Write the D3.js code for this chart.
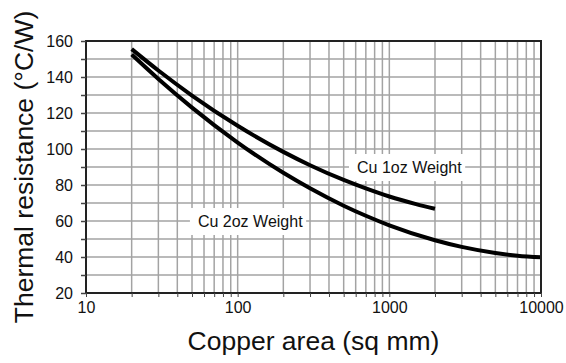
<!DOCTYPE html>
<html>
<head>
<meta charset="utf-8">
<script src="https://cdn.jsdelivr.net/npm/d3@7"></script>
<style>
  html, body { margin: 0; padding: 0; background: #fff; }
  svg { display: block; font-family: "Liberation Sans", Arial, Helvetica, sans-serif; }
</style>
</head>
<body>
<svg id="chart" width="566" height="363"></svg>
<script>
// ---- data ----
const xTickValues = [10, 100, 1000, 10000];
const yTickValues = [20, 40, 60, 80, 100, 120, 140, 160];
const areaOz1 = [20, 30, 50, 100, 200, 300, 500, 700, 1000, 1500, 2000];
const resOz1  = [155.5, 143.6, 129.7, 112.9, 98.4, 91.0, 82.8, 78.1, 73.6, 69.4, 66.8];
const areaOz2 = [20, 30, 50, 100, 200, 300, 500, 700, 1000, 2000, 3000, 5000, 7000, 10000];
const resOz2  = [152.5, 138.9, 123.0, 103.6, 86.8, 78.2, 68.5, 62.9, 57.6, 49.3, 45.6, 42.2, 40.7, 39.8];
const seriesNames = ["Cu 1oz Weight", "Cu 2oz Weight"];
const labelArea = [612, 54.7];
const labelRes = [90, 60];
const xTitle = "Copper area (sq mm)";
const yTitle = "Thermal resistance (°C/W)";

// ---- layout ----
const W = 566, H = 363;
const m = { left: 86, right: 25, top: 41, bottom: 70 };
const svg = d3.select("#chart");
const x = d3.scaleLog().domain([10, 10000]).range([m.left, W - m.right]);
const y = d3.scaleLinear().domain([20, 160]).range([H - m.bottom, m.top]);

const xMinor = [];
for (let d = 10; d < 10000; d *= 10) for (let k = 1; k <= 9; k++) xMinor.push(d * k);
xMinor.push(10000);
const yMinor = d3.range(20, 161, 10);

const grid = svg.append("g");
grid.selectAll("line.v").data(xMinor.filter(v => v > 10 && v < 10000)).join("line")
  .attr("x1", d => x(d)).attr("x2", d => x(d))
  .attr("y1", y(160)).attr("y2", y(20))
  .attr("stroke", "#a3a3a3").attr("stroke-width", 1.5);
grid.selectAll("line.h").data(yMinor.filter(v => v > 20 && v < 160)).join("line")
  .attr("x1", x(10)).attr("x2", x(10000))
  .attr("y1", d => y(d)).attr("y2", d => y(d))
  .attr("stroke", "#a3a3a3").attr("stroke-width", 1.5);

// labels with white background
seriesNames.forEach((name, i) => {
  const g = svg.append("g");
  const r = g.append("rect").attr("fill", "#fff");
  const t = g.append("text").text(name)
    .attr("x", x(labelArea[i])).attr("y", y(labelRes[i]) + 6)
    .attr("font-size", 16).attr("fill", "#111");
  const bb = t.node().getBBox();
  r.attr("x", bb.x - 8).attr("y", bb.y - 5).attr("width", bb.width + 11).attr("height", bb.height + 10);
});

// curves
const line = d3.line().x(d => x(d[0])).y(d => y(d[1])).curve(d3.curveMonotoneX);
const s1 = areaOz1.map((a, i) => [a, resOz1[i]]);
const s2 = areaOz2.map((a, i) => [a, resOz2[i]]);
svg.selectAll("path.curve").data([s1, s2]).join("path")
  .attr("class", "curve")
  .attr("d", line).attr("fill", "none")
  .attr("stroke", "#000").attr("stroke-width", 4).attr("stroke-linecap", "butt");

// frame
svg.append("rect")
  .attr("x", x(10)).attr("y", y(160))
  .attr("width", x(10000) - x(10)).attr("height", y(20) - y(160))
  .attr("fill", "none").attr("stroke", "#222").attr("stroke-width", 2);

// axes
const xAxis = d3.axisBottom(x).tickValues(xMinor).tickSize(4)
  .tickFormat(d => xTickValues.includes(d) ? d3.format("d")(d) : "");
const gx = svg.append("g").attr("transform", `translate(0,${y(20)})`).call(xAxis);
gx.select(".domain").remove();
gx.selectAll(".tick line").attr("stroke", "#444").attr("stroke-width", 1);
gx.selectAll("text").attr("font-size", 16).attr("fill", "#111").attr("font-family", "inherit").attr("dy", "0.71em").attr("y", 9);

const yAxis = d3.axisLeft(y).tickValues(yMinor).tickSize(5)
  .tickFormat(d => yTickValues.includes(d) ? d : "");
const gy = svg.append("g").attr("transform", `translate(${x(10)},0)`).call(yAxis);
gy.select(".domain").remove();
gy.selectAll(".tick line").attr("stroke", "#444").attr("stroke-width", 1.5);
gy.selectAll("text").attr("font-size", 16).attr("fill", "#111").attr("font-family", "inherit").attr("x", -13);

// titles
svg.append("text").text(xTitle)
  .attr("x", (x(10) + x(10000)) / 2).attr("y", 350)
  .attr("text-anchor", "middle").attr("font-size", 26.5).attr("fill", "#111");
svg.append("text").text(yTitle)
  .attr("transform", `translate(33,${(y(20) + y(160)) / 2}) rotate(-90)`)
  .attr("text-anchor", "middle").attr("font-size", 26.5).attr("fill", "#111");
</script>
</body>
</html>
